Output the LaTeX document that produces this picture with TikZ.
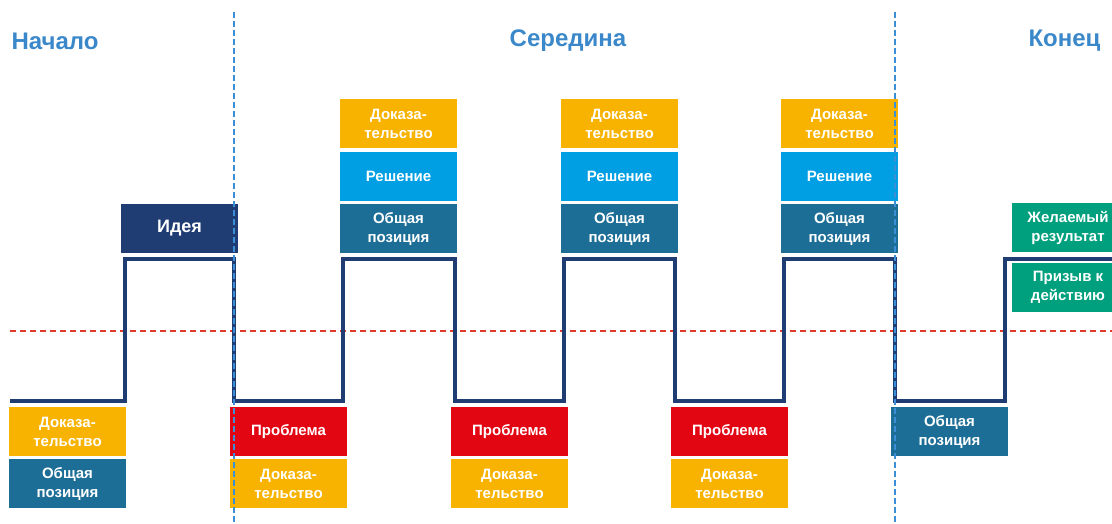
\documentclass[tikz,border=0pt]{standalone}
\usepackage{fontspec}
\setmainfont{Liberation Sans}
\usepackage{tikz}
\usetikzlibrary{positioning}
\definecolor{cnavy}{HTML}{1F3D73}
\definecolor{cyellow}{HTML}{F8B200}
\definecolor{csky}{HTML}{009FE3}
\definecolor{cteal}{HTML}{1D6E96}
\definecolor{cred}{HTML}{E20613}
\definecolor{cgreen}{HTML}{00A07F}
\definecolor{chead}{HTML}{3A88C9}
\definecolor{cguide}{HTML}{3A8FD6}
\definecolor{cmid}{HTML}{E03A2A}
\tikzset{
  blk/.style={fill=#1,text=white,minimum width=117pt,minimum height=49pt,inner sep=0pt,
    align=center,font=\fontsize{15}{19}\selectfont\bfseries},
  hd/.style={text=chead,font=\fontsize{24}{28}\selectfont\bfseries},
  guide/.style={cguide,line width=1.8pt,dash pattern=on 6pt off 3pt},
}

\begin{document}
\begin{tikzpicture}[x=1pt,y=-1pt]
\useasboundingbox (0,0) rectangle (1112,524);

% ===== headings =====
\node[hd,anchor=west] (tstart) at (8,41) {Начало};
\node[hd] (tmid) at (568,41) {Середина};
\node[hd,anchor=east] (tend) at (1104,41) {Конец};

% ===== middle line and the signal =====
\draw[cmid,line width=1.6pt,dash pattern=on 6pt off 4pt] (10,331) -- (1112,331);
\draw[cnavy,line width=3.5pt] (10,401) -- (125,401) -- (125,259) -- (234,259) -- (234,401)
  -- (343,401) -- (343,259) -- (455,259) -- (455,401)
  -- (564,401) -- (564,259) -- (675,259) -- (675,401)
  -- (784,401) -- (784,259) -- (895,259) -- (895,401)
  -- (1005,401) -- (1005,259) -- (1112,259);

% ===== beginning =====
\node[blk=cyellow] (dstart) at (67.5,431.5) {Доказа-\\тельство};
\node[blk=cteal,below=3pt of dstart] (gstart) {Общая\\позиция};
\node[blk=cnavy,font=\fontsize{18}{21}\selectfont\bfseries] (idea) at (179.5,228.5) {Идея};

% ===== middle: upper stacks =====
\node[blk=cteal] (g1) at (398.5,228.5) {Общая\\позиция};
\node[blk=csky,above=3pt of g1] (s1) {Решение};
\node[blk=cyellow,above=3pt of s1] (d1) {Доказа-\\тельство};
\node[blk=cteal] (g2) at (619.5,228.5) {Общая\\позиция};
\node[blk=csky,above=3pt of g2] (s2) {Решение};
\node[blk=cyellow,above=3pt of s2] (d2) {Доказа-\\тельство};
\node[blk=cteal] (g3) at (839.5,228.5) {Общая\\позиция};
\node[blk=csky,above=3pt of g3] (s3) {Решение};
\node[blk=cyellow,above=3pt of s3] (d3) {Доказа-\\тельство};

% ===== middle: lower stacks =====
\node[blk=cred] (p1) at (288.5,431.5) {Проблема};
\node[blk=cyellow,below=3pt of p1] (e1) {Доказа-\\тельство};
\node[blk=cred] (p2) at (509.5,431.5) {Проблема};
\node[blk=cyellow,below=3pt of p2] (e2) {Доказа-\\тельство};
\node[blk=cred] (p3) at (729.5,431.5) {Проблема};
\node[blk=cyellow,below=3pt of p3] (e3) {Доказа-\\тельство};

% ===== end =====
\node[blk=cteal] (gend) at (949.5,431.5) {Общая\\позиция};
\node[blk=cgreen,minimum width=113pt] (goal) at (1068,227.5) {Желаемый\\результат};
\node[blk=cgreen,minimum width=113pt] (call) at (1068,287) {Призыв к\\действию};

% ===== section borders =====
\draw[guide] (234,12) -- (234,524);
\draw[guide] (895,12) -- (895,524);

\end{tikzpicture}
\end{document}
